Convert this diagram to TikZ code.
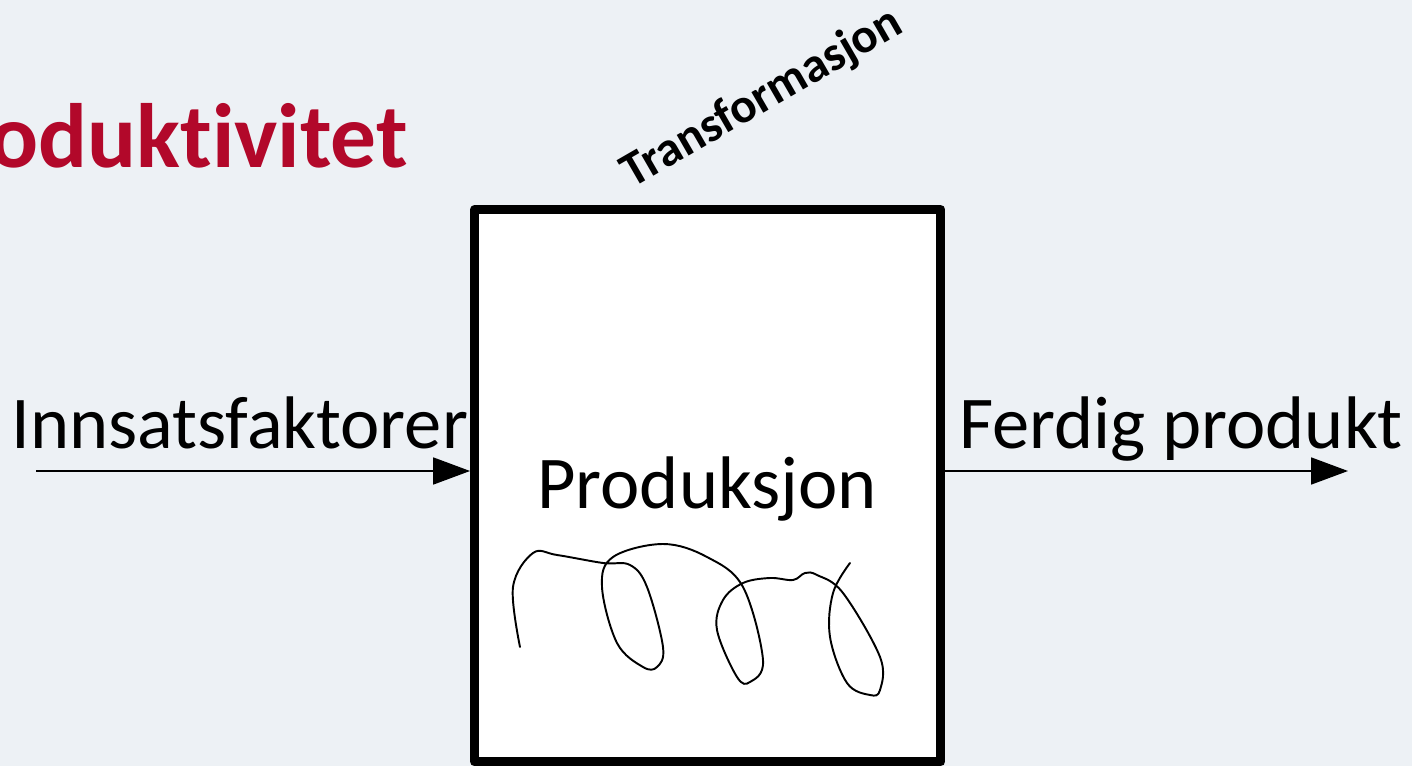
\documentclass[tikz,border=0pt]{standalone}
\usepackage{fontspec}
\setmainfont{Carlito}[Ligatures=CommonOff]
\usetikzlibrary{arrows.meta}
\definecolor{bgpanel}{RGB}{237,241,245}
\definecolor{titlered}{RGB}{178,8,42}
\begin{document}
\begin{tikzpicture}[x=0.02cm,y=-0.02cm,
  flow/.style={line width=1.13pt, -{Triangle[length=21pt,width=15.3pt]}},
  biglabel/.style={font=\fontsize{42.4}{50}\selectfont, inner sep=0},
  processbox/.style={draw, line width=5.1pt, line join=round, fill=white,
    minimum width=9.33cm, minimum height=11.05cm, inner sep=0},
  squiggle/.style={line width=1.1pt, line cap=round, line join=round}]
\useasboundingbox (0,0) rectangle (1412,766);
\clip (0,0) rectangle (1412,766);
\fill[bgpanel] (0,0) rectangle (1412,766);

% title, running off the left edge
\node[font=\bfseries\fontsize{52}{60}\selectfont, text=titlered,
      anchor=base east, inner sep=0] (title) at (408,168) {Produktivitet};

% the transformation box
\node[processbox] (prod) at (707.75,485.75) {};
\node[biglabel, anchor=base] (prodlabel) at (707,508) {Produksjon};
\node[font=\bfseries\fontsize{27.9}{32}\selectfont, rotate=30,
      anchor=base, inner sep=0] (transf) at (769,110) {Transformasjon};

% inputs and outputs
\coordinate (inStart) at (36,471);
\coordinate (outEnd) at (1348,471);
\node[biglabel, anchor=base west] (inLabel) at (11,448) {Innsatsfaktorer};
\node[biglabel, anchor=base west] (outLabel) at (959,448) {Ferdig produkt};
\draw[flow] (inStart) -- (inStart -| prod.west);
\draw[flow] (outEnd -| prod.east) -- (outEnd);

% scribble inside the box
\draw[squiggle] plot[smooth, tension=0.6] coordinates {
  (520,647) (513,587) (533,553) (557,555) (603,563) (630,565)
  (647,587) (663,647) (657,667) (643,667) (617,643) (602,587)
  (613,557) (663,544) (707,557) (743,587) (763,660) (750,682)
  (737,677) (717,630) (723,600) (743,583) (770,578) (793,580)
  (805,573) (817,575) (843,593) (880,657) (880,690) (870,695)
  (847,683) (830,637) (833,593) (850,563)};
\end{tikzpicture}
\end{document}
